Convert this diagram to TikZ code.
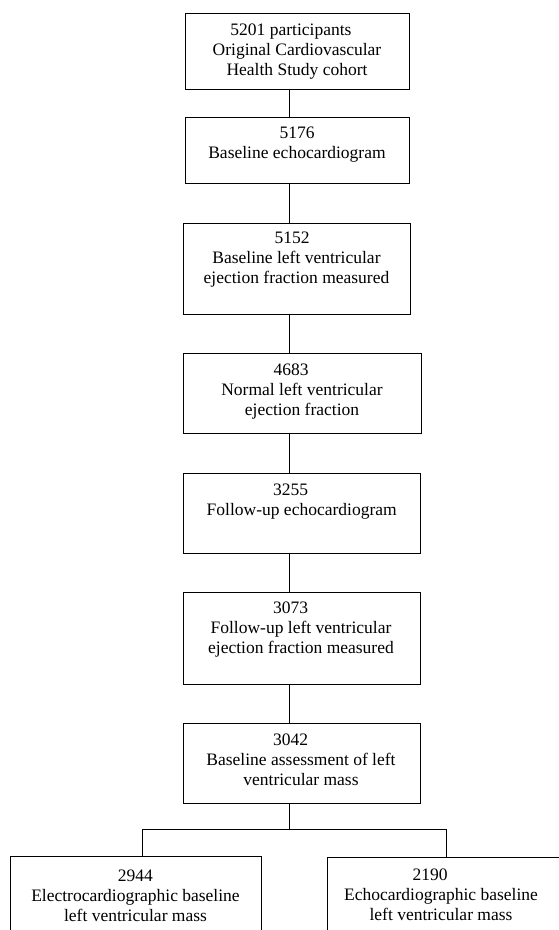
\documentclass[tikz,border=0pt]{standalone}
\usepackage{fontspec}
\setmainfont{Liberation Serif}
\begin{document}
\begin{tikzpicture}[x=1pt,y=-1pt,
  boxst/.style={draw, line width=0.9pt, inner sep=0pt, anchor=north west},
  txt/.style={align=center, inner sep=0pt, anchor=north, font=\fontsize{17.5}{20}\selectfont},
  conn/.style={line width=0.9pt}]
\useasboundingbox (0,0) rectangle (559,930);
\clip (0,0) rectangle (559,930);
% boxes
\node[boxst, minimum width=224pt, minimum height=76.6pt] (b1) at (185,12.7) {};
\node[boxst, minimum width=224pt, minimum height=66pt] (b2) at (185,116.7) {};
\node[boxst, minimum width=227pt, minimum height=91.3pt] (b3) at (183,222.7) {};
\node[boxst, minimum width=238pt, minimum height=79.7pt] (b4) at (183,353.3) {};
\node[boxst, minimum width=237pt, minimum height=80.2pt] (b5) at (183,472.5) {};
\node[boxst, minimum width=237pt, minimum height=92.3pt] (b6) at (183,591.7) {};
\node[boxst, minimum width=237pt, minimum height=80pt] (b7) at (183,723.3) {};
\node[boxst, minimum width=251pt, minimum height=90pt] (b8) at (10,856) {};
\node[boxst, minimum width=251pt, minimum height=90pt] (b9) at (327,857) {};
% texts
\node[txt] (t1) at (297,21) {\strut\hspace*{-12pt}5201 participants\\Original Cardiovascular\\Health Study cohort};
\node[txt] (t2) at (297,124) {\strut 5176\\Baseline echocardiogram};
\node[txt] (t3) at (296.5,229.3) {\strut\hspace*{-9pt}5152\\Baseline left ventricular\\ejection fraction measured};
\node[txt] (t4) at (302,361) {\strut\hspace*{-22pt}4683\\Normal left ventricular\\ejection fraction};
\node[txt] (t5) at (301.7,481) {\strut\hspace*{-22pt}3255\\Follow-up echocardiogram};
\node[txt] (t6) at (301,599.3) {\strut\hspace*{-21pt}3073\\Follow-up left ventricular\\ejection fraction measured};
\node[txt] (t7) at (301,731) {\strut\hspace*{-21pt}3042\\Baseline assessment of left\\ventricular mass};
\node[txt] (t8) at (135.5,867.7) {\strut 2944\\Electrocardiographic baseline\\left ventricular mass};
\node[txt] (t9) at (441,866) {\strut\hspace*{-22pt}2190\\Echocardiographic baseline\\left ventricular mass};
% connectors
\coordinate (sp) at (289,0);
\draw[conn] (b1.south -| sp) -- (b2.north -| sp);
\draw[conn] (b2.south -| sp) -- (b3.north -| sp);
\draw[conn] (b3.south -| sp) -- (b4.north -| sp);
\draw[conn] (b4.south -| sp) -- (b5.north -| sp);
\draw[conn] (b5.south -| sp) -- (b6.north -| sp);
\draw[conn] (b6.south -| sp) -- (b7.north -| sp);
\coordinate (br) at (289,829.5);
\coordinate (lb) at (142.7,829.5);
\coordinate (rb) at (446,829.5);
\draw[conn] (b7.south -| sp) -- (br);
\draw[conn] (lb |- b8.north) -- (lb) -- (rb) -- (rb |- b9.north);
\end{tikzpicture}
\end{document}
